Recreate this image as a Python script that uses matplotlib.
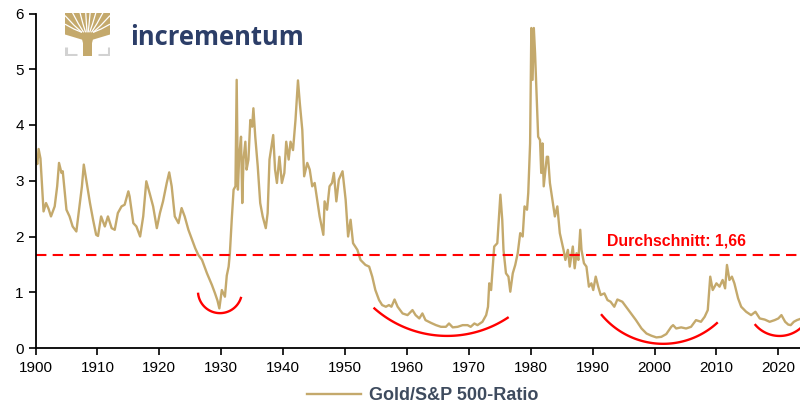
import matplotlib
matplotlib.use("Agg")
import matplotlib.pyplot as plt
import numpy as np

plt.rcParams['font.family'] = ['Liberation Sans', 'DejaVu Sans']

# ---- data ----
years = [1900.0, 1900.3, 1900.5, 1900.8, 1901.0, 1901.3, 1901.7, 1902.1, 1902.5, 1903.1, 1903.5, 1903.8,
         1904.2, 1904.4, 1905.0, 1905.5, 1906.0, 1906.6, 1907.1, 1907.5, 1907.8, 1908.1, 1908.8, 1909.3,
         1909.8, 1910.1, 1910.6, 1911.2, 1911.7, 1912.3, 1912.8, 1913.3, 1913.9, 1914.4, 1915.0, 1915.2,
         1915.8, 1916.3, 1916.9, 1917.4, 1917.9, 1918.5, 1919.0, 1919.6, 1920.1, 1920.6, 1921.2, 1921.6,
         1922.0, 1922.5, 1923.1, 1923.6, 1924.1, 1924.7, 1925.2, 1925.8, 1926.3, 1926.9, 1927.7, 1928.5,
         1929.0, 1929.4, 1929.7, 1930.1, 1930.6, 1930.9, 1931.2, 1931.4, 1931.7, 1932.0, 1932.3, 1932.5,
         1932.7, 1932.9, 1933.2, 1933.4, 1933.6, 1933.9, 1934.1, 1934.4, 1934.7, 1935.0, 1935.2, 1935.5,
         1935.9, 1936.3, 1936.7, 1937.2, 1937.5, 1937.8, 1938.4, 1938.7, 1939.0, 1939.4, 1939.8, 1940.2,
         1940.5, 1940.9, 1941.2, 1941.6, 1942.0, 1942.4, 1942.7, 1943.1, 1943.4, 1943.9, 1944.3, 1944.7,
         1945.1, 1945.5, 1945.9, 1946.5, 1946.7, 1947.1, 1947.5, 1947.9, 1948.2, 1948.6, 1949.0, 1949.6,
         1950.1, 1950.5, 1950.9, 1951.3, 1952.0, 1952.5, 1953.3, 1953.9, 1954.4, 1954.9, 1955.5, 1956.0,
         1956.6, 1957.1, 1957.5, 1958.0, 1958.5, 1959.3, 1960.1, 1960.9, 1961.4, 1962.0, 1962.5, 1963.0,
         1963.9, 1964.7, 1965.5, 1966.3, 1966.8, 1967.4, 1968.2, 1969.0, 1969.8, 1970.3, 1970.9, 1971.4,
         1972.2, 1972.8, 1973.1, 1973.3, 1973.6, 1974.1, 1974.6, 1975.1, 1975.4, 1975.6, 1976.0, 1976.4,
         1976.7, 1977.1, 1977.5, 1977.9, 1978.3, 1978.7, 1979.0, 1979.4, 1979.6, 1979.9, 1980.1, 1980.3,
         1980.5, 1980.7, 1980.9, 1981.2, 1981.5, 1981.7, 1981.9, 1982.1, 1982.6, 1982.8, 1983.1, 1983.5,
         1983.9, 1984.3, 1984.7, 1985.3, 1985.6, 1986.0, 1986.3, 1986.8, 1987.1, 1987.4, 1987.7, 1988.0,
         1988.2, 1988.6, 1989.0, 1989.4, 1989.8, 1990.1, 1990.5, 1990.9, 1991.3, 1991.9, 1992.4, 1992.9,
         1993.5, 1994.0, 1994.8, 1995.4, 1996.2, 1997.0, 1997.9, 1998.7, 1999.5, 2000.3, 2001.1, 2001.9,
         2002.7, 2003.0, 2003.5, 2004.3, 2005.1, 2005.9, 2006.7, 2007.5, 2008.1, 2008.6, 2009.0, 2009.4,
         2010.0, 2010.5, 2011.0, 2011.4, 2011.7, 2012.1, 2012.5, 2012.9, 2013.5, 2014.0, 2014.8, 2015.6,
         2016.3, 2017.0, 2017.8, 2018.6, 2019.4, 2020.0, 2020.5, 2021.1, 2021.6, 2022.0, 2022.5, 2023.0,
         2023.5]
ratio = [3.38, 3.30, 3.57, 3.40, 3.02, 2.45, 2.60, 2.50, 2.36, 2.54, 2.90, 3.32,
         3.14, 3.17, 2.48, 2.36, 2.18, 2.09, 2.54, 2.90, 3.29, 3.08, 2.60, 2.30,
         2.03, 2.01, 2.36, 2.18, 2.36, 2.15, 2.12, 2.42, 2.54, 2.57, 2.81, 2.72,
         2.24, 2.18, 2.00, 2.36, 2.99, 2.75, 2.54, 2.15, 2.42, 2.63, 2.96, 3.15,
         2.90, 2.36, 2.24, 2.51, 2.36, 2.12, 1.97, 1.79, 1.67, 1.58, 1.34, 1.13,
         0.98, 0.85, 0.71, 1.04, 0.92, 1.30, 1.46, 1.70, 2.30, 2.84, 2.90, 4.81,
         2.84, 3.43, 3.79, 2.60, 3.38, 3.70, 3.20, 3.38, 4.09, 3.97, 4.30, 3.79,
         3.26, 2.60, 2.36, 2.15, 2.42, 3.38, 3.82, 3.20, 2.96, 3.43, 2.96, 3.14,
         3.70, 3.38, 3.70, 3.55, 4.09, 4.80, 4.39, 3.91, 3.08, 3.32, 3.20, 2.90,
         2.96, 2.66, 2.36, 2.03, 2.63, 2.48, 2.90, 2.96, 3.14, 2.63, 3.02, 3.17,
         2.66, 2.00, 2.30, 1.88, 1.76, 1.58, 1.49, 1.46, 1.28, 1.04, 0.86, 0.77,
         0.74, 0.77, 0.74, 0.87, 0.74, 0.62, 0.59, 0.68, 0.59, 0.53, 0.62, 0.50,
         0.45, 0.41, 0.38, 0.38, 0.44, 0.37, 0.38, 0.41, 0.41, 0.38, 0.44, 0.41,
         0.47, 0.59, 0.74, 1.16, 1.04, 1.82, 1.88, 2.75, 2.30, 1.76, 1.34, 1.28,
         1.01, 1.34, 1.49, 1.70, 2.06, 2.00, 2.54, 2.48, 2.78, 3.67, 5.74, 4.81,
         5.74, 5.29, 4.69, 3.79, 3.73, 3.14, 3.67, 2.90, 3.43, 3.43, 2.96, 2.66,
         2.36, 2.54, 2.06, 1.76, 1.58, 1.76, 1.46, 1.82, 1.43, 1.70, 1.58, 2.12,
         1.76, 1.52, 1.46, 1.10, 1.16, 1.04, 1.28, 1.10, 0.95, 0.98, 0.86, 0.83,
         0.74, 0.87, 0.83, 0.74, 0.62, 0.50, 0.35, 0.26, 0.22, 0.19, 0.20, 0.25,
         0.38, 0.41, 0.35, 0.37, 0.35, 0.38, 0.50, 0.47, 0.56, 0.68, 1.28, 1.04,
         1.16, 1.10, 1.22, 1.07, 1.49, 1.22, 1.28, 1.16, 0.89, 0.74, 0.65, 0.59,
         0.65, 0.53, 0.51, 0.47, 0.50, 0.53, 0.59, 0.47, 0.42, 0.41, 0.47, 0.50,
         0.52]
average = 1.66
average_label = "Durchschnitt: 1,66"
series_label = "Gold/S&P 500-Ratio"
x_ticks = list(range(1900, 2021, 10))
y_ticks = [0, 1, 2, 3, 4, 5, 6]

# red bowl annotations: centre (year, value), radius in pixels, start/end angle (deg)
arc_centres = [(1929.8, 1.02), (1966.5, 2.19), (2001.4, 1.51), (2020.2, 0.79)]
arc_radii_px = [22, 110, 80, 32]
arc_angles = [(184, 345), (228, 304), (219, 313), (219, 312)]

GOLD = '#C4A96C'
RED = '#FF0000'
NAVY = '#2C3E68'

fig = plt.figure(figsize=(8.0, 4.12), dpi=100)
ax = fig.add_axes([35.5 / 800, 64 / 412, 1 - 35.5 / 800, (348 - 13.5) / 412])

ax.plot(years, ratio, color=GOLD, lw=1.7, label=series_label, solid_joinstyle='round')
ax.axhline(average, color=RED, lw=1.5, ls=(0, (5, 3)))
ax.text(1992.3, 1.92, average_label, color=RED, fontsize=11.4, fontweight='bold',
        ha='left', va='center')

ax.set_xlim(1900, 2023.5)
ax.set_ylim(0, 6)
ax.set_xticks(x_ticks)
ax.set_yticks(y_ticks)
ax.tick_params(axis='both', direction='out', length=5, width=1.2, labelsize=11, colors='black')
ax.tick_params(axis='x', pad=4)
for s in ['top', 'right']:
    ax.spines[s].set_visible(False)
for s in ['left', 'bottom']:
    ax.spines[s].set_linewidth(1.3)

# pixel scale of the axes for the arcs
fig.canvas.draw()
bbox = ax.get_window_extent()
px_per_year = bbox.width / (2023.5 - 1900)
px_per_unit = bbox.height / 6.0
for (cx, cy), r, (a1, a2) in zip(arc_centres, arc_radii_px, arc_angles):
    t = np.deg2rad(np.linspace(a1, a2, 100))
    ax.plot(cx + r / px_per_year * np.cos(t), cy + r / px_per_unit * np.sin(t),
            color=RED, lw=1.7, solid_capstyle='butt', clip_on=True)

# legend
leg = fig.legend(loc='center', bbox_to_anchor=(0.528, 1 - 396 / 412), frameon=False,
                 handlelength=3.0, handletextpad=0.45, prop={'weight': 'bold', 'size': 13})
for t in leg.get_texts():
    t.set_color('#3E4B5E')

# logo
lax = fig.add_axes([65 / 800, (412 - 56) / 412, 45 / 800, 43 / 412])
lax.set_xlim(0, 1)
lax.set_ylim(0, 1)
lax.axis('off')
grey = '#D2D2D2'
lax.plot([0.02, 0.02, 0.27], [0.2, 0.02, 0.02], color=grey, lw=2.2, solid_capstyle='butt')
lax.plot([0.73, 0.98, 0.98], [0.02, 0.02, 0.2], color=grey, lw=2.2, solid_capstyle='butt')
lax.fill([0.0, 1.0, 1.0, 0.62, 0.60, 0.60, 0.40, 0.40, 0.38, 0.0],
         [1.0, 1.0, 0.50, 0.38, 0.30, 0.0, 0.0, 0.30, 0.38, 0.50], color=GOLD, lw=0)
cut_ends = [(0.0, 0.72), (0.0, 0.92), (0.16, 1.0), (0.33, 1.0), (0.46, 1.0),
            (0.56, 1.0), (0.69, 1.0), (0.85, 1.0), (1.0, 0.92), (1.0, 0.72)]
for ex, ey in cut_ends:
    sx = 0.5 + (ex - 0.5) * 0.25
    sy = 0.55
    mx = 0.5 + (ex - 0.5) * 0.6
    my = sy + (ey - sy) * 0.45
    lax.plot([sx, mx, ex], [sy, my, ey + 0.02], color='white', lw=0.9, solid_capstyle='butt')
fig.text(130 / 800, 1 - 45 / 412, 'incrementum', color=NAVY, fontsize=18.4, fontweight='bold',
         ha='left', va='baseline', family=['Open Sans', 'DejaVu Sans'])

fig.savefig('out.png', dpi=100)
